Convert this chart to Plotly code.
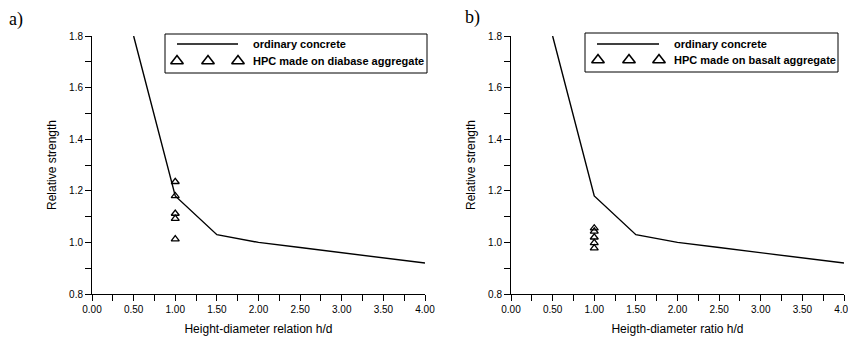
import plotly.graph_objects as go

# ---- data ----
hd_ordinary = [0.5, 1.0, 1.5, 2.0, 2.5, 3.0, 3.5, 4.0]
rs_ordinary = [1.80, 1.18, 1.03, 1.00, 0.98, 0.96, 0.94, 0.92]

hd_diabase = [1.0, 1.0, 1.0, 1.0, 1.0]
rs_diabase = [1.235, 1.18, 1.112, 1.092, 1.013]

hd_basalt = [1.0, 1.0, 1.0, 1.0, 1.0]
rs_basalt = [1.055, 1.043, 1.02, 0.998, 0.978]

x_titles = ["Height-diameter relation h/d", "Heigth-diameter ratio h/d"]
y_title = "Relative strength"
legend_line = "ordinary concrete"
legend_pts = ["HPC made on diabase aggregate", "HPC made on basalt aggregate"]
panel_labels = ["a)", "b)"]

# page body has an 8px margin; figure is sized to fit the window
OFF = 8
W, H = 856 - OFF, 337 - OFF
FONT = "Arial, Liberation Sans, sans-serif"

def px(x):
    return (x - OFF) / W

def py(y):
    return 1 - (y - OFF) / H

fig = go.Figure()

panels = [
    dict(x0=92, x1=425, legend=(165, 34, 427, 73), line=(177, 238, 44), tri=[177, 208, 238], tri_y=61, text_x=251, lab=(7, 19)),
    dict(x0=511, x1=844, legend=(585, 33, 838, 72), line=(597, 659, 44), tri=[598, 629, 659], tri_y=60, text_x=672, lab=(463, 18)),
]
YT, YB = 36, 294

series = [(hd_diabase, rs_diabase), (hd_basalt, rs_basalt)]

for i, p in enumerate(panels):
    xa = "x" if i == 0 else "x2"
    ya = "y" if i == 0 else "y2"
    fig.add_trace(go.Scatter(x=hd_ordinary, y=rs_ordinary, mode="lines",
                             line=dict(color="black", width=1.4),
                             xaxis=xa, yaxis=ya, showlegend=False))
    fig.add_trace(go.Scatter(x=series[i][0], y=series[i][1], mode="markers",
                             marker=dict(symbol="triangle-up-open", size=7, color="black",
                                         line=dict(width=1.3, color="black")),
                             xaxis=xa, yaxis=ya, showlegend=False))
    axis_common = dict(showgrid=False, zeroline=False, showline=True, linecolor="black",
                       linewidth=1, ticks="outside", ticklen=6, tickcolor="black",
                       tickfont=dict(family=FONT, size=10, color="black"), automargin=False)
    fig.layout["xaxis" + ("" if i == 0 else "2")] = dict(
        domain=[px(p["x0"]), px(p["x1"])], range=[0, 4], dtick=0.5, tick0=0,
        tickformat=".2f", anchor=ya,
        minor=dict(ticks="outside", dtick=0.25, ticklen=6, tickcolor="black"),
        title=dict(text=x_titles[i], font=dict(family=FONT, size=12, color="black"), standoff=10),
        **axis_common)
    fig.layout["yaxis" + ("" if i == 0 else "2")] = dict(
        domain=[py(YB), py(YT)], range=[0.8, 1.8], dtick=0.2, tick0=0.8,
        tickformat=".1f", anchor=xa,
        minor=dict(ticks="outside", dtick=0.1, ticklen=6, tickcolor="black"),
        title=dict(text=y_title, font=dict(family=FONT, size=12, color="black"), standoff=9),
        **axis_common)

    # custom legend box
    lx0, ly0, lx1, ly1 = p["legend"]
    fig.add_shape(type="rect", xref="paper", yref="paper", layer="below",
                  x0=px(lx0), x1=px(lx1), y0=py(ly1), y1=py(ly0),
                  line=dict(color="black", width=1), fillcolor="white")
    a, b, yy = p["line"]
    fig.add_shape(type="line", xref="paper", yref="paper",
                  x0=px(a), x1=px(b), y0=py(yy), y1=py(yy),
                  line=dict(color="black", width=1.4))
    fig.add_annotation(xref="paper", yref="paper", x=px(p["text_x"]), y=py(yy),
                       text="<b>" + legend_line + "</b>", showarrow=False,
                       xanchor="left", yanchor="middle",
                       font=dict(family=FONT, size=11, color="black"))
    fig.add_annotation(xref="paper", yref="paper", x=px(p["text_x"]), y=py(p["tri_y"]),
                       text="<b>" + legend_pts[i] + "</b>", showarrow=False,
                       xanchor="left", yanchor="middle",
                       font=dict(family=FONT, size=11, color="black"))
    # legend triangles on a pixel overlay axis
    fig.add_trace(go.Scatter(x=p["tri"], y=[p["tri_y"]] * 3, mode="markers",
                             marker=dict(symbol="triangle-up-open", size=11, color="black",
                                         line=dict(width=1.6, color="black")),
                             xaxis="x3", yaxis="y3", showlegend=False, hoverinfo="skip"))
    fig.add_annotation(xref="paper", yref="paper", x=px(p["lab"][0]), y=py(p["lab"][1]),
                       text=panel_labels[i], showarrow=False, xanchor="left", yanchor="middle",
                       font=dict(family="Liberation Serif, Times New Roman, serif", size=18, color="black"))

fig.update_layout(
    xaxis3=dict(domain=[0, 1], range=[OFF, OFF + W], visible=False, anchor="y3"),
    yaxis3=dict(domain=[0, 1], range=[OFF + H, OFF], visible=False, anchor="x3"),
    width=W, height=H, margin=dict(l=0, r=0, t=0, b=0),
    paper_bgcolor="white", plot_bgcolor="rgba(0,0,0,0)",
    showlegend=False,
)

fig.write_html("out.html")
